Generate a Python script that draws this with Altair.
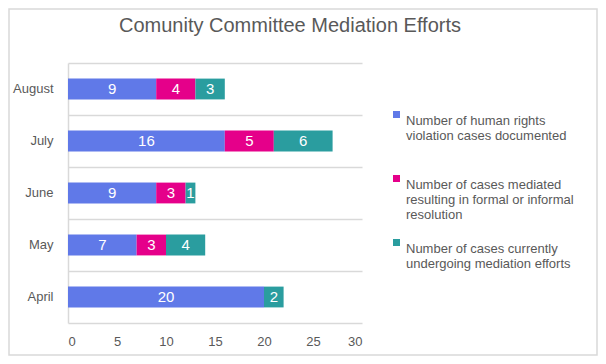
import altair as alt
import pandas as pd

months = ["August", "July", "June", "May", "April"]
series = [
    "Number of human rights|violation cases documented| ",
    "\u2002Number of cases mediated|resulting in formal or informal|resolution",
    "Number of cases currently|undergoing mediation efforts| ",
]
documented = [9, 16, 9, 7, 20]
mediated = [4, 5, 3, 3, 0]
ongoing = [3, 6, 1, 4, 2]
colors = ["#6079E8", "#E5008A", "#2A9D9F"]
title_text = "Comunity Committee Mediation Efforts"

rows = []
for i, m in enumerate(months):
    for j, (s, v) in enumerate(zip(series, [documented[i], mediated[i], ongoing[i]])):
        rows.append({"month": m, "series": s, "order": j, "value": v})
df = pd.DataFrame(rows)

W, H = 294, 260
GREY = "#595959"
LINE = "#D9D9D9"
FONT = "Liberation Sans, Arial, sans-serif"

base = alt.Chart(df).transform_stack(
    stack="value", as_=["x0", "x1"], groupby=["month"],
    sort=[alt.SortField("order", order="ascending")]
).transform_calculate(mid="(datum.x0 + datum.x1) / 2")

yenc = alt.Y("month:N", sort=months, title=None,
             scale=alt.Scale(paddingInner=0, paddingOuter=0),
             axis=alt.Axis(bandPosition=0, grid=True, gridColor=LINE, gridWidth=1.5,
                           domainColor=LINE, domainWidth=1.5, ticks=False,
                           labelPadding=15, labelFontSize=13, labelColor=GREY,
                           labelFont=FONT))
xenc = alt.X("x0:Q", title=None, scale=alt.Scale(domain=[0, 30], nice=False),
             axis=alt.Axis(values=[0, 5, 10, 15, 20, 25, 30], grid=False, ticks=False,
                           domainColor=LINE, domainWidth=1.5, labelPadding=12,
                           labelFontSize=13, labelColor=GREY, labelFont=FONT))

bars = base.mark_bar(height=alt.RelativeBandSize(0.4)).encode(
    y=yenc, x=xenc, x2="x1:Q",
    color=alt.Color("series:N", sort=series,
                    scale=alt.Scale(domain=series, range=colors),
                    legend=alt.Legend(title=None, orient="none", legendX=322, legendY=45,
                                      symbolType="square", symbolSize=49,
                                      symbolStrokeWidth=0, labelExpr="split(datum.label, '|')",
                                      labelFontSize=13, labelColor=GREY, labelFont=FONT,
                                      labelBaseline="top", labelLimit=300, rowPadding=14,
                                      labelOffset=3, padding=0)),
)

labels = base.transform_filter("datum.value > 0").mark_text(
    color="white", fontSize=15, font=FONT
).encode(y=alt.Y("month:N", sort=months), x=alt.X("mid:Q"), text="value:Q")

frame = alt.Chart(pd.DataFrame({"a": [0]})).mark_rect(
    fill=None, stroke=LINE, strokeWidth=1.5
).encode(x=alt.value(-59), x2=alt.value(529), y=alt.value(-54), y2=alt.value(292))

title = alt.Chart(pd.DataFrame({"t": [title_text]})).mark_text(
    fontSize=20, font=FONT, color=GREY, align="center", baseline="alphabetic"
).encode(text="t:N", x=alt.value(222), y=alt.value(-31))

chart = alt.layer(frame, bars, labels, title).properties(
    width=W, height=H,
    autosize=alt.AutoSizeParams(type="none"),
    padding={"left": 60, "top": 55, "right": 236, "bottom": 33},
).configure_view(stroke=None)

chart.save("out.html", embed_options={"renderer": "svg", "actions": False})
